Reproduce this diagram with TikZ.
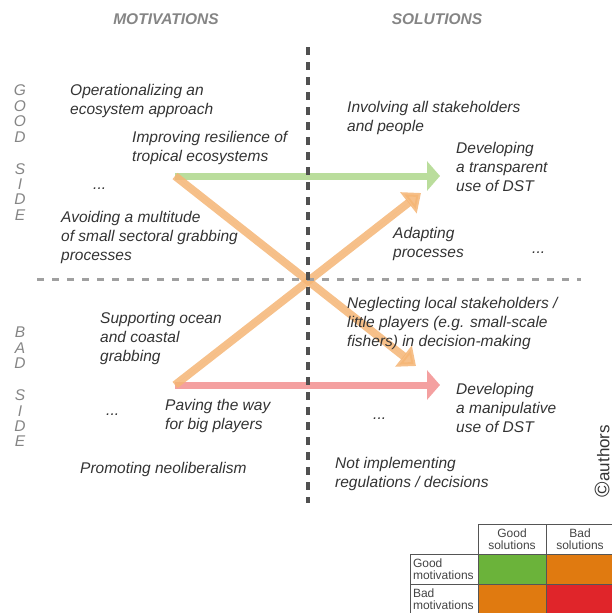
\documentclass[tikz,border=0pt]{standalone}
\usepackage{fontspec}
\setmainfont{Liberation Sans}
\usetikzlibrary{arrows.meta}
\definecolor{txt}{HTML}{333333}
\definecolor{sidegray}{HTML}{858585}
\definecolor{hdrgray}{HTML}{858585}
\definecolor{vdash}{HTML}{505050}
\definecolor{hdash}{HTML}{A0A0A0}
\definecolor{garrow}{HTML}{BADD9C}
\definecolor{rarrow}{HTML}{F4A0A0}
\definecolor{oarrow}{HTML}{F5B575}
\definecolor{tblline}{HTML}{555555}
\definecolor{tbltxt}{HTML}{444444}
\definecolor{goodgreen}{HTML}{6BB33A}
\definecolor{midorange}{HTML}{E07A10}
\definecolor{badred}{HTML}{E0252A}
\begin{document}
\begin{tikzpicture}[x=1pt,y=-1pt,
  lbl/.style={font=\fontsize{15.5}{19}\selectfont\itshape, text=txt, anchor=north west, inner sep=0pt, align=left, yshift=8.3pt},
  dots/.style={font=\fontsize{15.5}{19}\selectfont\itshape, text=txt, anchor=base west, inner sep=0pt},
  side/.style={font=\fontsize{15.5}{15.4}\selectfont\itshape, text=sidegray, align=center, inner sep=0pt, anchor=north},
  hdr/.style={font=\fontsize{15.5}{18}\selectfont\bfseries\itshape, text=hdrgray, inner sep=0pt},
  garr/.style={line width=7pt, draw=garrow, -{Triangle[width=29pt,length=13pt]}},
  rarr/.style={line width=7pt, draw=rarrow, -{Triangle[width=29pt,length=13pt]}},
  oarr/.style={line width=8pt, draw=oarrow, fill=oarrow, opacity=0.85, -{Triangle[width=26pt,length=16pt]}},
  vline/.style={draw=vdash, line width=3.5pt, dash pattern=on 8pt off 7pt},
  hline/.style={draw=hdash, line width=3pt, dash pattern=on 7pt off 8pt},
  cell/.style={draw=tblline, line width=0.9pt, minimum height=30pt, text width=62pt, inner xsep=3pt, inner ysep=0pt, anchor=north west, outer sep=0pt, font=\fontsize{12}{11.5}\selectfont, text=tbltxt}
]
\useasboundingbox (0,0) rectangle (611,613);

% headers
\node[hdr] (hm) at (166,19) {MOTIVATIONS};
\node[hdr] (hs) at (437,19) {SOLUTIONS};

% side labels
\node[side] (good) at (20,84.0) {\strut G\\O\\O\\D\\\strut\\S\\I\\D\\E};
\node[side] (bad) at (20,327.0) {\strut B\\A\\D\\\strut\\S\\I\\D\\E};

% arrow coordinates
\coordinate (gs) at (175,176);
\coordinate (ge) at (440,176);
\coordinate (bs) at (175,385);
\coordinate (be) at (440,385);
\coordinate (oe1) at (416,366);
\coordinate (oe2) at (421,193);

\draw[garr] (gs) -- (ge);
\draw[rarr] (bs) -- (be);
\draw[oarr] (gs) -- (oe1);
\draw[oarr] (bs) -- (oe2);

% dashed axes
\coordinate (vt) at (308,47);
\coordinate (vb) at (308,503);
\coordinate (hl) at (37,279);
\coordinate (hr) at (581,279);
\draw[hline] (hl) -- (hr);
\draw[vline] (vt) -- (vb);

% texts
\node[lbl] (m1) at (70,90) {\strut Operationalizing an\\ecosystem approach};
\node[lbl] (m2) at (132,137) {\strut Improving resilience of\\tropical ecosystems};
\node[dots] (m3) at (93,189) {...};
\node[lbl] (m4) at (61,217) {\strut Avoiding a multitude\\of small sectoral grabbing\\processes};
\node[lbl] (s1) at (347,107) {\strut Involving all stakeholders\\and people};
\node[lbl] (s2) at (456,148) {\strut Developing\\a transparent\\use of DST};
\node[lbl] (s3) at (393,233) {\strut Adapting\\processes};
\node[dots] (s4) at (532,253) {...};
\node[lbl] (b1) at (100,318) {\strut Supporting ocean\\and coastal\\grabbing};
\node[dots] (b2) at (106,415) {...};
\node[lbl] (b3) at (165,405) {\strut Paving the way\\for big players};
\node[lbl] (b4) at (80,468) {\strut Promoting neoliberalism};
\node[lbl] (n1) at (347,303) {\strut Neglecting local stakeholders /\\little players (e.g. small-scale\\fishers) in decision-making};
\node[lbl] (n2) at (456,389) {\strut Developing\\a manipulative\\use of DST};
\node[dots] (n3) at (373,419) {...};
\node[lbl] (n4) at (335,463) {\strut Not implementing\\regulations / decisions};

% copyright
\node[rotate=90, font=\fontsize{17}{17}\selectfont, text=txt, inner sep=0pt] (copy) at (602,461) {{\fontsize{21}{21}\selectfont ©}authors};

% table
\node[cell, align=center] (hg) at (478,524) {Good\\solutions};
\node[cell, align=center] (hb) at (546,524) {Bad\\solutions};
\node[cell, align=left] (lg) at (410,554) {Good\\motivations};
\node[cell, fill=goodgreen] (gg) at (478,554) {};
\node[cell, fill=midorange] (gb) at (546,554) {};
\node[cell, align=left] (lb) at (410,584) {Bad\\motivations};
\node[cell, fill=midorange] (bg) at (478,584) {};
\node[cell, fill=badred] (bb) at (546,584) {};
\end{tikzpicture}
\end{document}
